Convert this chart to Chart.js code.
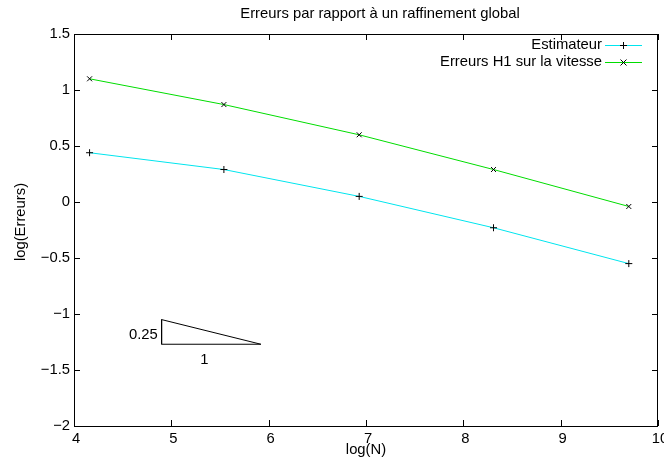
<!DOCTYPE html>
<html lang="fr">
<head>
    <meta charset="UTF-8">
    <title>Erreurs par rapport à un raffinement global</title>
    <script src="https://cdn.jsdelivr.net/npm/chart.js@4/dist/chart.umd.min.js"></script>
    <style>
        body { margin: 0; background: #fff; }
        #box { width: 664px; height: 468px; }
    </style>
</head>
<body>
    <div id="box"><canvas id="chart" width="664" height="468"></canvas></div>

    <script>
// donnees
var titre = "Erreurs par rapport à un raffinement global";
var logN = [4.16, 5.54, 6.93, 8.31, 9.70];
var estimateur = [0.44, 0.29, 0.05, -0.23, -0.55];
var erreursH1 = [1.10, 0.87, 0.60, 0.29, -0.04];

// triangle de pente
var triangleX = [4.9, 4.9, 5.92, 4.9];
var triangleY = [-1.05, -1.27, -1.27, -1.05];
var pente = { texte: "0.25", x: 4.86, y: -1.19 };
var base = { texte: "1", x: 5.34, y: -1.41 };

var couleurEst = "#00e5ee";
var couleurH1 = "#00dd00";
var police = "'Liberation Sans', Arial, Helvetica, sans-serif";
var taille = 14.8;

function points(xs, ys) {
    return xs.map(function(x, i) { return { x: x, y: ys[i] }; });
}

// cadre, graduations interieures, titre, legende et annotations
var decor = {
    id: "decor",
    afterDraw: function(chart) {
        var ctx = chart.ctx;
        var a = chart.chartArea;
        var sx = chart.scales.x, sy = chart.scales.y;
        ctx.save();
        ctx.strokeStyle = "#000";
        ctx.lineWidth = 1;
        ctx.strokeRect(Math.round(a.left) + 0.5, Math.round(a.top) + 0.5,
            Math.round(a.right - a.left) - 1, Math.round(a.bottom - a.top));

        var t = 6;
        ctx.beginPath();
        sx.ticks.forEach(function(tk) {
            var px = Math.round(sx.getPixelForValue(tk.value)) + 0.5;
            ctx.moveTo(px, a.bottom); ctx.lineTo(px, a.bottom - t);
            ctx.moveTo(px, a.top); ctx.lineTo(px, a.top + t);
        });
        sy.ticks.forEach(function(tk) {
            var py = Math.round(sy.getPixelForValue(tk.value)) + 0.5;
            ctx.moveTo(a.left, py); ctx.lineTo(a.left + t, py);
            ctx.moveTo(a.right, py); ctx.lineTo(a.right - t, py);
        });
        ctx.stroke();

        ctx.fillStyle = "#000";
        ctx.font = taille + "px " + police;
        ctx.textBaseline = "middle";

        // titre
        ctx.textAlign = "center";
        ctx.fillText(titre, 380, 14);

        // titre axe y
        ctx.save();
        ctx.translate(21, 222);
        ctx.rotate(-Math.PI / 2);
        ctx.fillText("log(Erreurs)", 0, 0);
        ctx.restore();

        // annotations du triangle
        ctx.textAlign = "right";
        ctx.fillText(pente.texte, sx.getPixelForValue(pente.x), sy.getPixelForValue(pente.y));
        ctx.textAlign = "center";
        ctx.fillText(base.texte, sx.getPixelForValue(base.x), sy.getPixelForValue(base.y));

        // legende
        [0, 1].forEach(function(i) {
            var ds = chart.data.datasets[i];
            var y = 45 + i * 16.8;
            var yl = Math.round(y);
            ctx.textAlign = "right";
            ctx.fillStyle = "#000";
            ctx.fillText(ds.label, 602, y);
            ctx.fillStyle = i === 0 ? couleurEst : couleurH1;
            ctx.fillRect(605, yl, 37, 1);
            ctx.strokeStyle = "#000";
            ctx.beginPath();
            var cx = 623.5, cy = yl + 0.5, r = 3.5;
            if (ds.pointStyle === "cross") {
                ctx.moveTo(cx - r, cy); ctx.lineTo(cx + r, cy);
                ctx.moveTo(cx, cy - r); ctx.lineTo(cx, cy + r);
            } else {
                ctx.moveTo(cx - 3, cy - 3); ctx.lineTo(cx + 3, cy + 3);
                ctx.moveTo(cx - 3, cy + 3); ctx.lineTo(cx + 3, cy - 3);
            }
            ctx.stroke();
        });
        ctx.restore();
    }
};

var ctx = document.getElementById("chart").getContext("2d");
var chart = new Chart(ctx, {
    type: "line",
    data: {
        datasets: [{
            label: "Estimateur",
            data: points(logN, estimateur),
            borderColor: couleurEst,
            borderWidth: 1,
            pointStyle: "cross",
            pointRadius: 3.5,
            pointBorderColor: "#000",
            pointBorderWidth: 1,
            fill: false
        }, {
            label: "Erreurs H1 sur la vitesse",
            data: points(logN, erreursH1),
            borderColor: couleurH1,
            borderWidth: 1,
            pointStyle: "crossRot",
            pointRadius: 3.5,
            pointBorderColor: "#000",
            pointBorderWidth: 1,
            fill: false
        }, {
            label: "pente",
            data: points(triangleX, triangleY),
            borderColor: "#000",
            borderWidth: 1,
            pointRadius: 0,
            fill: false
        }]
    },
    options: {
        responsive: false,
        animation: false,
        layout: { padding: { top: 34, right: 6, left: 0, bottom: 0 } },
        plugins: {
            legend: { display: false },
            title: { display: false },
            tooltip: { enabled: false }
        },
        elements: { line: { tension: 0 } },
        scales: {
            x: {
                type: "linear",
                min: 4,
                max: 10,
                ticks: { stepSize: 1, color: "#000", padding: 4, labelOffset: 2, font: { family: police, size: taille } },
                grid: { display: false, drawTicks: false },
                border: { display: false },
                title: {
                    display: true,
                    text: "log(N)",
                    color: "#000",
                    font: { family: police, size: taille },
                    padding: { top: 0, bottom: 9 }
                },
                afterFit: function(s) { s.height = 42; s.paddingLeft = 0; s.paddingRight = 0; }
            },
            y: {
                type: "linear",
                min: -2,
                max: 1.5,
                ticks: {
                    stepSize: 0.5,
                    color: "#000",
                    padding: 4,
                    font: { family: police, size: taille },
                    callback: function(v) { return String(v).replace("-", "\u2212"); }
                },
                grid: { display: false, drawTicks: false },
                border: { display: false },
                afterFit: function(s) { s.width = 74; s.paddingTop = 0; s.paddingBottom = 0; }
            }
        }
    },
    plugins: [decor]
});
    </script>
</body>
</html>
